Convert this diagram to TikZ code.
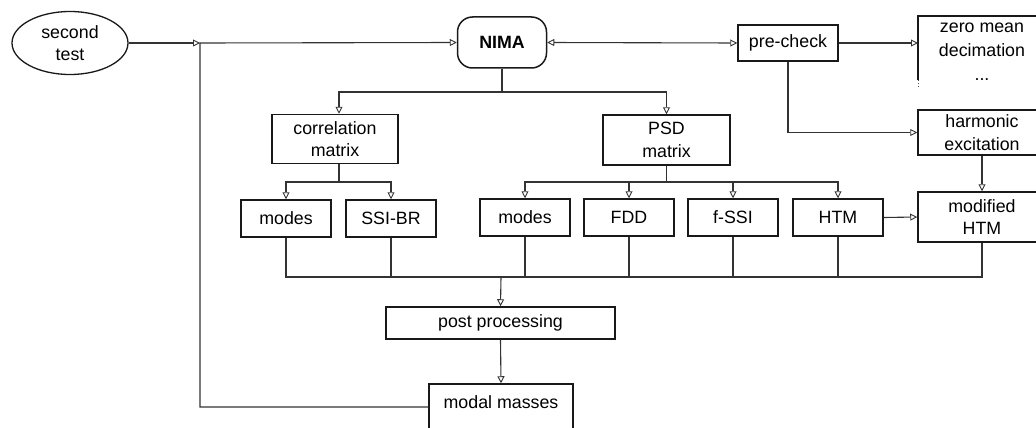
\documentclass[tikz,border=0pt]{standalone}
\usepackage{fontspec}
\setmainfont{Liberation Sans}
\usetikzlibrary{arrows.meta,shapes.geometric}

\tikzset{
  lbl/.style={font=\fontsize{17.8}{22.5}\selectfont, align=center, inner sep=0pt, text=black},
  box/.style={lbl, draw=black!90, line width=1.5pt, rectangle},
  conn/.style={draw=black!80, line width=1.1pt},
  arr/.style={conn, -{Triangle[open, length=7pt, width=7pt, line width=0.9pt]}},
  darr/.style={conn, {Triangle[open, length=7pt, width=7pt, line width=0.9pt]}-{Triangle[open, length=7pt, width=7pt, line width=0.9pt]}},
}

\begin{document}
\begin{tikzpicture}[x=1pt, y=-1pt]
  \useasboundingbox (0,0) rectangle (1036,428);
  \clip (0,0) rectangle (1036,428);

  % input and main program
  \node[lbl, draw=black!90, line width=1.3pt, ellipse, minimum width=116, minimum height=63] (test) at (70,43) {second\\test};
  \node[box, rounded corners=15pt, minimum width=89, minimum height=51] (nima) at (502,42.5) {\bfseries NIMA};

  % pre-check branch
  \node[box, minimum width=100, minimum height=36] (pre) at (788,43) {pre-check};
  \node[lbl, font=\fontsize{17.8}{24}\selectfont] (zm) at (982,52) {zero mean\\decimation\\...};
  \draw[draw=black!90, line width=1.5pt] (1050,16) -- (918,16) -- (918,80);
  \draw[draw=black!70, line width=1pt, dotted] (918,80) -- (918,88);
  \coordinate (zmin) at (918,43);
  \node[box, minimum width=128, minimum height=45] (harm) at (982,132.5) {harmonic\\excitation};

  % matrices
  \node[box, minimum width=126, minimum height=49] (corr) at (335,139) {correlation\\matrix};
  \node[box, minimum width=127, minimum height=50] (psd) at (666.5,140) {PSD\\matrix};

  % identification methods
  \node[box, minimum width=90, minimum height=37] (modesA) at (286,218.5) {modes};
  \node[box, minimum width=90, minimum height=37] (ssibr) at (391,218.5) {SSI-BR};
  \node[box, minimum width=90, minimum height=37] (modesB) at (525,217.5) {modes};
  \node[box, minimum width=90, minimum height=37] (fdd) at (629,217.5) {FDD};
  \node[box, minimum width=90, minimum height=37] (fssi) at (733,217.5) {f-SSI};
  \node[box, minimum width=90, minimum height=37] (htm) at (838,217.5) {HTM};
  \node[box, minimum width=128, minimum height=50] (mhtm) at (982,217) {modified\\HTM};

  % results
  \node[box, minimum width=229, minimum height=32] (post) at (500.5,323) {post processing};
  \node[box, minimum width=144, minimum height=46, text depth=10pt] (mm) at (501,407) {modal masses};

  % input and feedback into NIMA
  \coordinate (join) at (200,43);
  \draw[arr] (test) -- (join);
  \draw[arr] (mm.west) -| (join) -- (nima.west);
  \draw[darr] (nima.east) -- (pre.west);
  \draw[arr] (pre.east) -- (zmin);
  \draw[arr] (pre.south) |- (harm.west);

  % NIMA to the matrices
  \coordinate (nb) at (502,92);
  \draw[conn] (nima.south) -- (nb);
  \draw[arr] (nb) -| ([xshift=4pt]corr.north);
  \draw[arr] (nb) -| (psd.north);

  % matrices to the methods
  \coordinate (cb) at (339,182);
  \draw[conn] ([xshift=4pt]corr.south) -- (cb);
  \draw[arr] (cb) -| (modesA.north);
  \draw[arr] (cb) -| (ssibr.north);
  \coordinate (pb) at (666.5,182);
  \draw[conn] (psd.south) -- (pb);
  \draw[arr] (pb) -| (modesB.north);
  \draw[arr] (pb) -| (fdd.north);
  \draw[arr] (pb) -| (fssi.north);
  \draw[arr] (pb) -| (htm.north);
  \draw[arr] (htm.east) -- (mhtm.west);
  \draw[arr] (harm.south) -- (mhtm.north);

  % collecting bus to post processing
  \coordinate (bus) at (501,277);
  \draw[conn] (modesA.south) |- (mhtm.south |- bus) -- (mhtm.south);
  \draw[conn] (ssibr.south) -- (ssibr.south |- bus);
  \draw[conn] (modesB.south) -- (modesB.south |- bus);
  \draw[conn] (fdd.south) -- (fdd.south |- bus);
  \draw[conn] (fssi.south) -- (fssi.south |- bus);
  \draw[conn] (htm.south) -- (htm.south |- bus);
  \draw[arr] (bus) -- (post.north);
  \draw[arr] (post.south) -- (mm.north);
\end{tikzpicture}
\end{document}
